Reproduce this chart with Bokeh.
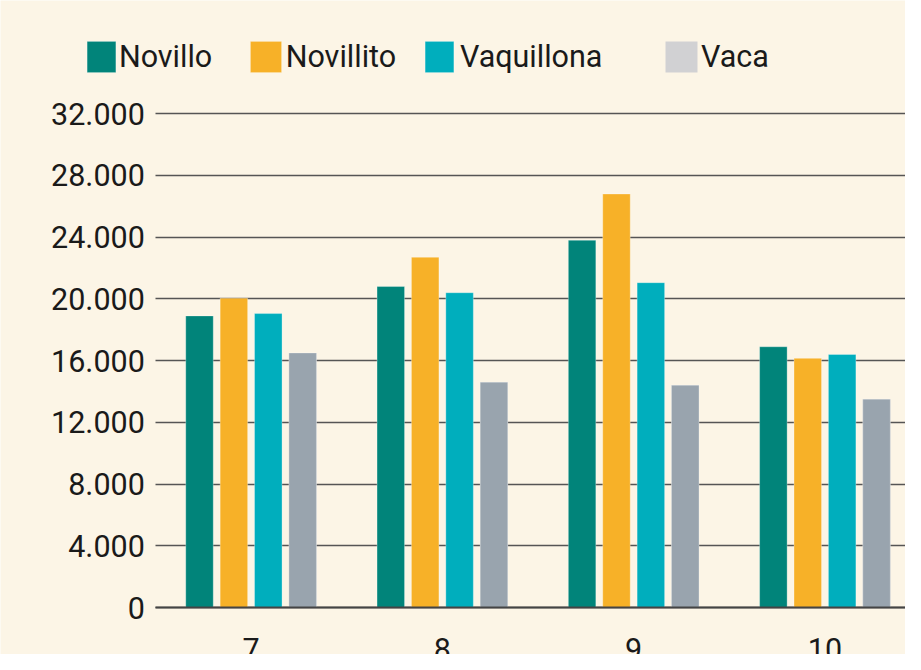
from bokeh.plotting import figure
from bokeh.models import ColumnDataSource, FixedTicker, Legend, LegendItem, Range1d
from bokeh.transform import dodge
from bokeh.embed import file_html
from bokeh.resources import INLINE

# ---- data ----
months = [7, 8, 9, 10]
month_labels = ["7", "8", "9", "10"]
series = ["Novillo", "Novillito", "Vaquillona", "Vaca"]
novillo = [18900, 20800, 23800, 16900]
novillito = [20050, 22700, 26800, 16150]
vaquillona = [19050, 20400, 21050, 16400]
vaca = [16500, 14600, 14400, 13500]
y_ticks = [0, 4000, 8000, 12000, 16000, 20000, 24000, 28000, 32000]
y_tick_labels = ["0", "4.000", "8.000", "12.000", "16.000", "20.000", "24.000", "28.000", "32.000"]

# ---- style ----
BG = "#fcf5e6"
bar_colors = ["#01847a", "#f7b128", "#00aebd", "#99a4ae"]
vaca_swatch = "#d1d1d3"
FONT = "Roboto"
FS = "30.5px"
TXT = "#1a1a1a"

X0, X1 = 5.690, 10.421      # visible x extent
XL = 6.502                  # left end of grid/axis lines
source = ColumnDataSource(dict(month=months, Novillo=novillo, Novillito=novillito,
                               Vaquillona=vaquillona, Vaca=vaca))

p = figure(width=905, height=654, output_backend="svg", toolbar_location=None,
           x_range=Range1d(X0, X1), y_range=Range1d(-3039, 39334),
           min_border_left=0, min_border_right=0, min_border_top=0, min_border_bottom=0)
p.background_fill_color = BG
p.border_fill_color = BG
p.outline_line_color = None

offsets = [-0.2697, -0.0899, 0.0899, 0.2697]
BW = 0.1438

# lighter legend swatch for Vaca, hidden exactly beneath the Vaca bars
vaca_sw = p.vbar(x=dodge("month", offsets[3]), top="Vaca", width=BW, source=source,
                 fill_color=vaca_swatch, line_color=None)

renderers = []
for name, col, off in zip(series, bar_colors, offsets):
    r = p.vbar(x=dodge("month", off), top=name, width=BW, source=source,
               fill_color=col, line_color="white", line_alpha=0.3, line_width=1)
    renderers.append(r)

# axes
p.xaxis.ticker = FixedTicker(ticks=months)
p.xaxis.major_label_overrides = {m: l for m, l in zip(months, month_labels)}
p.xaxis.fixed_location = 0
p.xaxis.bounds = (XL, X1 + 1)
p.xaxis.axis_line_color = "#444444"
p.xaxis.axis_line_width = 2
p.xaxis.major_tick_line_color = None
p.xaxis.minor_tick_line_color = None
p.xaxis.major_label_standoff = 24
p.xaxis.major_label_text_font = FONT
p.xaxis.major_label_text_font_size = FS
p.xaxis.major_label_text_color = TXT

p.yaxis.ticker = FixedTicker(ticks=y_ticks)
p.yaxis.major_label_overrides = {t: l for t, l in zip(y_ticks, y_tick_labels)}
p.yaxis.fixed_location = XL
p.yaxis.axis_line_color = None
p.yaxis.major_tick_line_color = None
p.yaxis.minor_tick_line_color = None
p.yaxis.major_tick_out = 0
p.yaxis.major_tick_in = 0
p.yaxis.major_label_standoff = 11
p.yaxis.major_label_text_font = FONT
p.yaxis.major_label_text_font_size = FS
p.yaxis.major_label_text_color = TXT

p.xgrid.grid_line_color = None
p.ygrid.ticker = FixedTicker(ticks=y_ticks)
p.ygrid.cross_bounds = (XL, X1 + 1)
p.ygrid.grid_line_color = "#555555"
p.ygrid.grid_line_width = 1.5

# legends, one per item to match the uneven spacing
legend_renderers = renderers[:3] + [vaca_sw]
legend_x = [82.9, 245.7, 420.9, 661.0]
glyph_w = [35.6, 39.3, 35.6, 39.6]
standoff = [0, 1, 3, 0]
for name, lr, lx, gw, so in zip(series, legend_renderers, legend_x, glyph_w, standoff):
    lg = Legend(items=[LegendItem(label=name, renderers=[lr])], location=(lx, 577.9),
                orientation="horizontal", padding=0, margin=0, spacing=0,
                glyph_width=int(round(gw)), glyph_height=39, label_height=39, label_standoff=so,
                label_text_font=FONT, label_text_font_size=FS,
                label_text_color=TXT, border_line_color=None,
                background_fill_alpha=0)
    p.add_layout(lg, "center")

open("out.html", "w").write(file_html(p, INLINE))
